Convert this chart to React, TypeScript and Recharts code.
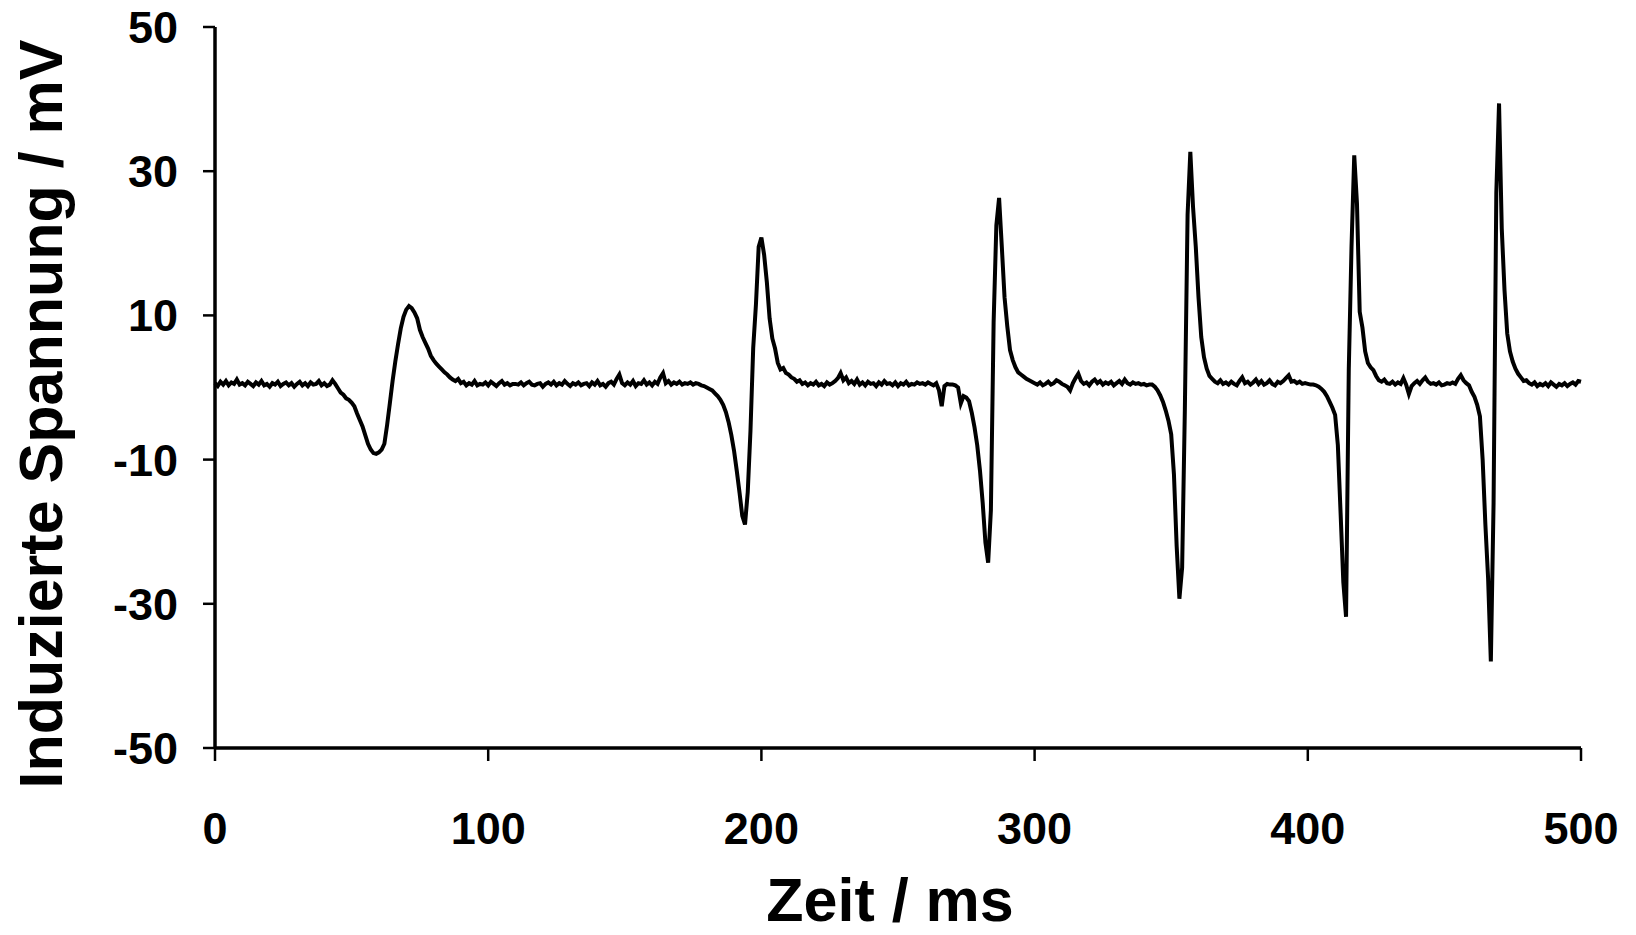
import React from 'react';
import { LineChart, Line, XAxis, YAxis, Label } from 'recharts';

const xTicks = [0, 100, 200, 300, 400, 500];
const yTicks = [-50, -30, -10, 10, 30, 50];

// induced voltage (mV), one sample per ms
const mv000 = [
  0.6, 0.2, 0.8, 0.4, 0.9, 0.3, 0.7, 0.5, 1.1, 0.4,
  0.6, 0.3, 0.8, 0.5, 0.2, 0.7, 0.4, 0.9, 0.3, 0.5,
  0.1, 0.6, 0.4, 0.8, 0.2, 0.5, 0.7, 0.3, 0.6, 0.1,
  0.5, 0.8, 0.3, 0.6, 0.2, 0.7, 0.4, 0.5, 0.9, 0.3,
  0.6, 0.2, 0.4, 1.0, 0.5, -0.1, -0.7, -1.0, -1.5, -1.7,
];
const mv050 = [
  -2.1, -2.6, -3.6, -4.5, -5.4, -6.6, -7.8, -8.6, -9.1, -9.2,
  -9.0, -8.6, -7.8, -5.2, -2.2, 0.9, 3.6, 6.0, 8.2, 9.8,
  10.8, 11.3, 11.0, 10.4, 9.6, 8.0, 7.0, 6.2, 5.4, 4.4,
  3.8, 3.3, 2.9, 2.5, 2.1, 1.8, 1.4, 1.1, 0.9, 1.2,
  0.6, 0.8, 0.3, 0.6, 0.4, 0.9, 0.3, 0.5, 0.4, 0.7,
];
const mv100 = [
  0.3, 0.8, 0.5, 0.2, 0.6, 0.9, 0.4, 0.6, 0.3, 0.5,
  0.5, 0.4, 0.7, 0.3, 0.6, 0.8, 0.4, 0.3, 0.5, 0.6,
  0.1, 0.5, 0.7, 0.4, 0.8, 0.3, 0.6, 0.4, 0.9, 0.5,
  0.2, 0.6, 0.4, 0.7, 0.3, 0.5, 0.6, 0.2, 0.7, 0.4,
  0.9, 0.3, 0.5, 0.1, 0.6, 0.8, 0.4, 1.2, 1.8, 0.6,
];
const mv150 = [
  0.3, 0.7, 0.4, 0.9, 0.2, 0.6, 0.5, 1.0, 0.4, 0.7,
  0.3, 0.8, 0.5, 1.4, 2.0, 0.6, 0.9, 0.4, 0.7, 0.5,
  0.8, 0.4, 0.6, 0.5, 0.7, 0.4, 0.6, 0.5, 0.3, 0.2,
  0.0, -0.2, -0.4, -0.8, -1.2, -1.7, -2.4, -3.4, -4.8, -6.6,
  -8.8, -11.6, -14.6, -17.8, -19.0, -14.5, -6.0, 5.5, 11.5, 19.5,
];
const mv200 = [
  20.8, 18.4, 14.6, 9.6, 6.8, 5.4, 3.4, 2.5, 2.7, 2.0,
  1.8, 1.4, 1.2, 0.8, 1.0, 0.5, 0.7, 0.3, 0.6, 0.4,
  0.8, 0.3, 0.5, 0.2, 0.7, 0.4, 0.6, 0.9, 1.3, 2.0,
  1.0, 1.4, 0.6, 0.9, 0.5, 1.1, 0.4, 0.7, 0.3, 0.8,
  0.5, 0.6, 0.2, 0.7, 0.4, 0.9, 0.5, 0.6, 0.3, 0.7,
];
const mv250 = [
  0.2, 0.6, 0.4, 0.8, 0.3, 0.5, 0.4, 0.7, 0.5, 0.6,
  0.4, 0.7, 0.5, 0.3, 0.6, -0.4, -2.6, 0.2, 0.5, 0.4,
  0.4, 0.3, 0.0, -2.2, -1.2, -1.4, -1.9, -3.5, -5.5, -8.0,
  -11.5, -16.0, -21.5, -24.3, -17.0, 9.0, 22.5, 26.3, 19.5, 12.5,
  8.5, 5.2, 3.8, 2.8, 2.1, 1.8, 1.5, 1.2, 1.0, 0.8,
];
const mv300 = [
  0.6, 0.4, 0.7, 0.3, 0.5, 0.8, 0.4, 0.6, 1.0, 0.8,
  0.5, 0.3, 0.1, -0.4, 0.6, 1.3, 1.9, 0.9, 0.5, 0.7,
  0.3, 0.8, 1.1, 0.6, 0.9, 0.4, 0.7, 0.5, 0.8, 0.3,
  0.6, 0.9, 0.5, 1.1, 0.6, 0.4, 0.7, 0.5, 0.6, 0.4,
  0.5, 0.3, 0.4, 0.4, 0.1, -0.4, -1.1, -2.0, -3.2, -4.6,
];
const mv350 = [
  -6.5, -12.0, -22.0, -29.3, -25.0, -3.0, 24.0, 32.7, 25.0, 19.5,
  12.5, 7.0, 4.2, 2.6, 1.6, 1.2, 0.8, 0.6, 1.0, 0.5,
  0.7, 0.4, 0.8, 0.5, 0.3, 0.9, 1.4, 0.6, 0.8, 0.4,
  0.7, 1.1, 0.5, 0.9, 0.4, 0.6, 1.0, 0.5, 0.3, 0.8,
  0.6, 0.9, 1.3, 1.7, 0.8, 0.9, 0.6, 0.8, 0.5, 0.6,
];
const mv400 = [
  0.5, 0.4, 0.4, 0.3, 0.1, -0.2, -0.6, -1.2, -2.0, -2.8,
  -3.8, -8.0, -17.4, -27.0, -31.8, 2.5, 19.5, 32.2, 25.5, 10.5,
  8.3, 5.0, 3.4, 2.8, 2.4, 1.6, 1.0, 0.8, 1.1, 0.6,
  0.5, 0.8, 0.4, 0.7, 0.5, 1.3, 0.4, -0.9, 0.2, 0.6,
  0.9, 0.5, 1.0, 1.4, 0.8, 0.5, 0.6, 0.4, 0.7, 0.3,
];
const mv450 = [
  0.4, 0.6, 0.5, 0.7, 0.5, 1.2, 1.7, 1.0, 0.6, 0.3,
  -0.6, -1.3, -2.4, -4.0, -10.0, -19.0, -26.5, -38.0, -16.0, 27.0,
  39.4, 22.0, 13.5, 7.5, 5.0, 3.6, 2.6, 1.9, 1.4, 0.9,
  1.0, 0.6, 0.4, 0.7, 0.2, 0.5, 0.3, 0.6, 0.2, 0.7,
  0.4, 0.1, 0.5, 0.3, 0.6, 0.2, 0.5, 0.7, 0.4, 0.9,
  0.8,
];

const segments = [mv000, mv050, mv100, mv150, mv200, mv250, mv300, mv350, mv400, mv450];
const data = segments.flat().map((v, i) => ({ t: i, v }));

const font = '"Liberation Sans", Arial, sans-serif';
const tickStyle = { fontSize: 45, fontWeight: 700, fill: '#000', fontFamily: font };
const titleStyle = { fontSize: 61, fontWeight: 700, fontFamily: font, fill: '#000' };

export default function App() {
  return (
    <div style={{ position: 'absolute', left: 0, top: 0, background: '#fff' }}>
      <LineChart width={1636} height={935} data={data} margin={{ top: 27, right: 55, bottom: 0, left: 0 }}>
        <XAxis
          dataKey="t"
          type="number"
          domain={[0, 500]}
          ticks={xTicks}
          height={187}
          tickSize={13}
          tickMargin={51}
          axisLine={{ stroke: '#000', strokeWidth: 3.5 }}
          tickLine={{ stroke: '#000', strokeWidth: 2.5 }}
          tick={tickStyle}
        >
          <Label
            content={({ viewBox }: any) => (
              <text x={viewBox.x + viewBox.width / 2 - 8} y={921} textAnchor="middle" style={titleStyle}>
                Zeit / ms
              </text>
            )}
          />
        </XAxis>
        <YAxis
          type="number"
          domain={[-50, 50]}
          ticks={yTicks}
          width={215}
          tickSize={12}
          tickMargin={25}
          axisLine={{ stroke: '#000', strokeWidth: 3.5 }}
          tickLine={{ stroke: '#000', strokeWidth: 2.5 }}
          tick={tickStyle}
        >
          <Label
            content={() => (
              <text x={62} y={414} transform="rotate(-90, 62, 414)" textAnchor="middle" style={titleStyle}>
                Induzierte Spannung / mV
              </text>
            )}
          />
        </YAxis>
        <Line
          type="linear"
          dataKey="v"
          stroke="#000"
          strokeWidth={4}
          dot={false}
          isAnimationActive={false}
        />
      </LineChart>
    </div>
  );
}
